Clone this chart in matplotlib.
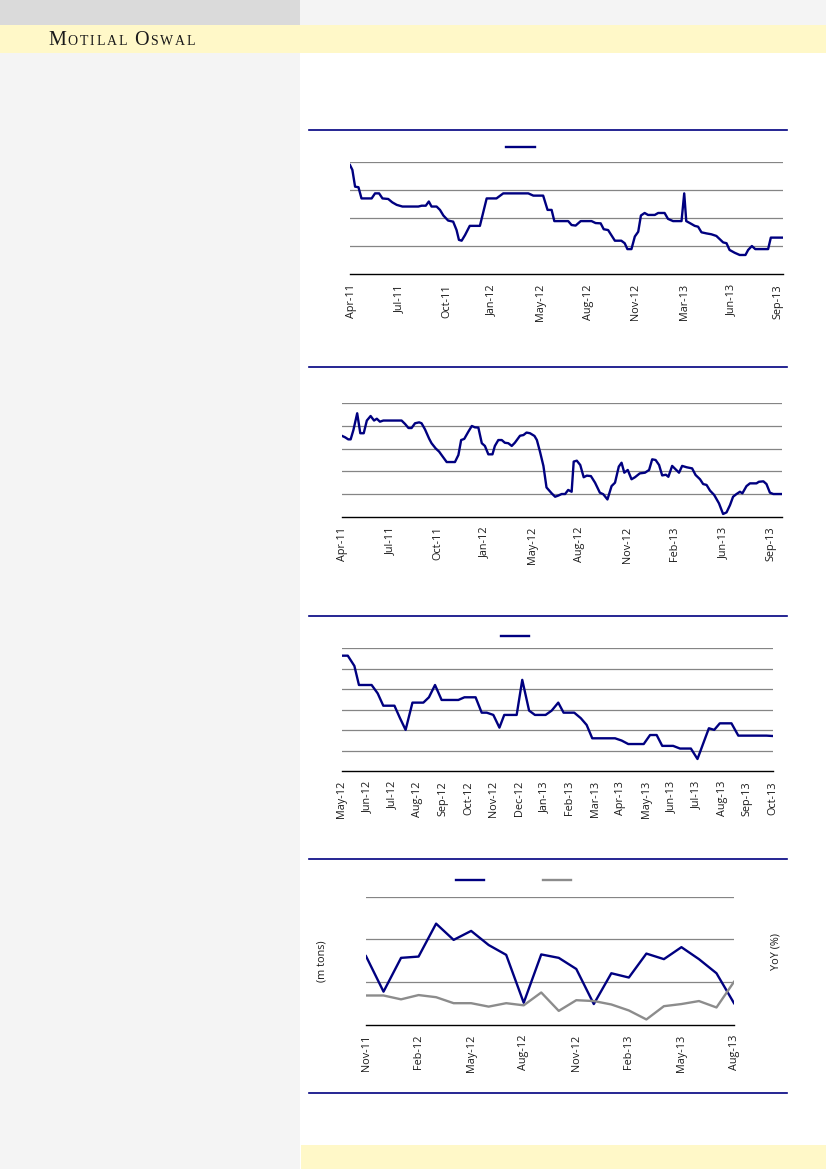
import matplotlib
matplotlib.use('Agg')
import matplotlib.pyplot as plt
import numpy as np
from matplotlib.patches import Rectangle
from matplotlib.lines import Line2D
from matplotlib.offsetbox import TextArea, HPacker, AnchoredOffsetbox

plt.rcParams['font.family'] = ['Open Sans', 'DejaVu Sans']

NAVY = '#000080'
GREY = '#8c8c8c'

# chart 1 - weekly, Apr-11 .. Sep-13 (values in gridline units, axis has no numbers)
c1_week = [0, 0.7, 1.5, 2.5, 3.4, 6.4, 7.4, 8.6, 9.6, 11.3,
           12.5, 13.8, 15.5, 20.2, 21.2, 22.4, 23.3, 24.1, 25.6, 26.6,
           27.6, 29.0, 30.5, 31.5, 32.2, 33.0, 34.0, 35.4, 38.4, 40.4,
           43.3, 45.3, 52.7, 54.2, 57.1, 58.4, 59.6, 60.4, 64.5, 65.5,
           66.7, 68.2, 71.4, 72.6, 74.1, 75.0, 76.3, 78.3, 80.2, 81.2,
           82.0, 83.2, 84.2, 85.2, 86.0, 87.1, 88.1, 90.1, 91.1, 93.0,
           94.0, 95.5, 98.0, 98.8, 99.4, 100.9, 101.9, 102.9, 103.9, 105.4,
           106.8, 108.3, 110.3, 111.3, 112.2, 113.7, 115.2, 116.9, 117.7, 118.8,
           119.8, 123.6, 124.4, 128.0]
c1_val = [3.90, 3.73, 3.13, 3.11, 2.71, 2.71, 2.89, 2.89, 2.71, 2.69,
          2.57, 2.48, 2.42, 2.42, 2.45, 2.45, 2.60, 2.42, 2.42, 2.30,
          2.10, 1.92, 1.88, 1.58, 1.23, 1.20, 1.40, 1.73, 1.73, 2.71,
          2.71, 2.89, 2.89, 2.81, 2.81, 2.30, 2.30, 1.90, 1.90, 1.76,
          1.74, 1.90, 1.90, 1.83, 1.82, 1.61, 1.58, 1.20, 1.20, 1.11,
          0.90, 0.90, 1.35, 1.52, 2.10, 2.19, 2.12, 2.12, 2.19, 2.19,
          1.98, 1.90, 1.90, 2.89, 1.90, 1.80, 1.73, 1.70, 1.50, 1.46,
          1.43, 1.37, 1.14, 1.11, 0.87, 0.77, 0.69, 0.69, 0.87, 1.01,
          0.90, 0.90, 1.31, 1.31]
c1_labels = ['Apr-11', 'Jul-11', 'Oct-11', 'Jan-12', 'May-12', 'Aug-12',
             'Nov-12', 'Mar-13', 'Jun-13', 'Sep-13']
c1_ticks = [0.5, 14.5, 28.6, 41.8, 56.4, 70.4, 84.5, 98.8, 112.7, 126.5]

# chart 2 - weekly, Apr-11 .. Sep-13
c2_week = [0, 1.0, 1.9, 2.6, 3.4, 4.5, 5.4, 6.4, 7.3, 8.4,
           9.4, 10.2, 11.1, 12.1, 17.4, 18.4, 19.4, 20.3, 21.3, 22.5,
           23.2, 24.2, 25.4, 26.1, 27.3, 28.3, 29.2, 30.5, 32.9, 33.9,
           34.7, 35.6, 36.8, 37.8, 38.7, 39.7, 40.7, 41.6, 42.6, 43.8,
           44.5, 45.5, 46.5, 47.4, 48.4, 49.4, 50.3, 51.8, 52.8, 53.7,
           54.7, 56.0, 56.7, 57.6, 58.6, 59.5, 61.0, 62.0, 62.9, 63.9,
           64.9, 65.8, 66.8, 67.4, 68.3, 69.3, 70.3, 71.2, 72.4, 73.6,
           75.0, 76.0, 77.2, 78.4, 79.4, 80.5, 81.3, 82.1, 83.1, 84.2,
           85.2, 86.6, 88.1, 89.3, 90.2, 91.2, 92.2, 93.1, 94.2, 94.9,
           96.0, 97.0, 98.0, 98.9, 100.2, 101.8, 102.8, 104.1, 105.0, 106.0,
           107.0, 108.2, 109.6, 110.8, 111.8, 112.8, 113.7, 114.7, 115.7, 116.4,
           117.6, 118.6, 120.5, 121.2, 122.5, 123.4, 124.4, 125.4, 128.0]
c2_val = [3.57, 3.50, 3.41, 3.41, 3.82, 4.56, 3.68, 3.68, 4.24, 4.44,
          4.24, 4.32, 4.19, 4.24, 4.24, 4.09, 3.91, 3.91, 4.12, 4.16,
          4.12, 3.85, 3.44, 3.24, 3.01, 2.87, 2.68, 2.41, 2.41, 2.72,
          3.38, 3.43, 3.75, 4.00, 3.94, 3.93, 3.24, 3.12, 2.75, 2.75,
          3.12, 3.38, 3.38, 3.26, 3.24, 3.12, 3.26, 3.57, 3.60, 3.71,
          3.68, 3.56, 3.38, 2.87, 2.24, 1.29, 1.03, 0.88, 0.93, 1.00,
          1.00, 1.18, 1.10, 2.43, 2.47, 2.28, 1.74, 1.81, 1.79, 1.50,
          1.06, 0.99, 0.76, 1.35, 1.50, 2.21, 2.38, 1.94, 2.06, 1.65,
          1.74, 1.91, 1.94, 2.06, 2.53, 2.50, 2.28, 1.82, 1.85, 1.76,
          2.24, 2.09, 1.94, 2.24, 2.18, 2.13, 1.84, 1.65, 1.44, 1.40,
          1.15, 0.96, 0.59, 0.12, 0.19, 0.51, 0.88, 1.00, 1.10, 1.03,
          1.35, 1.47, 1.47, 1.54, 1.56, 1.44, 1.06, 1.00, 1.00]
c2_labels = ['Apr-11', 'Jul-11', 'Oct-11', 'Jan-12', 'May-12', 'Aug-12',
             'Nov-12', 'Feb-13', 'Jun-13', 'Sep-13']
c2_ticks = [0.2, 14.3, 27.9, 41.5, 55.4, 69.2, 83.1, 96.8, 110.8, 124.7]

# chart 3 - May-12 .. Oct-13, x in months from May-12
c3_month = [0, 0.24, 0.50, 0.68, 1.18, 1.42, 1.64, 2.08, 2.30, 2.52,
            2.79, 3.22, 3.44, 3.68, 3.94, 4.60, 4.84, 5.28, 5.52, 5.72,
            5.98, 6.22, 6.41, 6.90, 7.12, 7.39, 7.62, 8.04, 8.28, 8.54,
            8.75, 9.17, 9.43, 9.66, 9.88, 10.78, 11.04, 11.30, 11.91, 12.16,
            12.42, 12.64, 13.07, 13.34, 13.77, 14.03, 14.26, 14.48, 14.69, 14.91,
            15.37, 15.64, 16.75, 17.02]
c3_val = [5.64, 5.64, 5.14, 4.21, 4.21, 3.80, 3.20, 3.20, 2.59, 2.02,
          3.35, 3.35, 3.61, 4.21, 3.48, 3.48, 3.61, 3.61, 2.86, 2.86,
          2.75, 2.13, 2.75, 2.75, 4.46, 2.96, 2.75, 2.75, 2.96, 3.35,
          2.86, 2.86, 2.59, 2.26, 1.61, 1.61, 1.50, 1.33, 1.33, 1.77,
          1.77, 1.24, 1.24, 1.11, 1.11, 0.60, 1.37, 2.10, 2.02, 2.34,
          2.34, 1.74, 1.74, 1.72]
c3_labels = ['May-12', 'Jun-12', 'Jul-12', 'Aug-12', 'Sep-12', 'Oct-12',
             'Nov-12', 'Dec-12', 'Jan-13', 'Feb-13', 'Mar-13', 'Apr-13',
             'May-13', 'Jun-13', 'Jul-13', 'Aug-13', 'Sep-13', 'Oct-13']

# chart 4 - monthly Nov-11 .. Aug-13, volume (left) and YoY (right)
c4_months = ['Nov-11', 'Dec-11', 'Jan-12', 'Feb-12', 'Mar-12', 'Apr-12',
             'May-12', 'Jun-12', 'Jul-12', 'Aug-12', 'Sep-12', 'Oct-12',
             'Nov-12', 'Dec-12', 'Jan-13', 'Feb-13', 'Mar-13', 'Apr-13',
             'May-13', 'Jun-13', 'Jul-13', 'Aug-13']
c4_vol = [1.61, 0.78, 1.57, 1.60, 2.37, 1.99, 2.20, 1.87, 1.64, 0.52,
          1.65, 1.57, 1.31, 0.49, 1.21, 1.11, 1.67, 1.54, 1.82, 1.54,
          1.21, 0.51]
c4_yoy = [0.69, 0.69, 0.60, 0.70, 0.65, 0.51, 0.51, 0.43, 0.51, 0.46,
          0.76, 0.33, 0.58, 0.56, 0.48, 0.34, 0.13, 0.44, 0.49, 0.56,
          0.41, 1.01]

W, H = 826, 1169
fig = plt.figure(figsize=(W / 100, H / 100), dpi=100)
fig.patch.set_facecolor('white')


def px_rect(x0, y0, x1, y1, color):
    fig.add_artist(Rectangle((x0 / W, 1 - y1 / H), (x1 - x0) / W, (y1 - y0) / H,
                             transform=fig.transFigure, facecolor=color,
                             edgecolor='none', zorder=-10))


def px_hline(y, x0, x1, color=NAVY, lw=1.2):
    fig.add_artist(Line2D([x0 / W, x1 / W], [1 - y / H, 1 - y / H],
                          transform=fig.transFigure, color=color, lw=lw))


def add_ax(x0, x1, ytop, ybot):
    return fig.add_axes([x0 / W, 1 - ybot / H, (x1 - x0) / W, (ybot - ytop) / H])


# page background
px_rect(0, 0, 300, 25, '#dadada')
px_rect(300, 0, W, 25, '#f4f4f4')
px_rect(0, 25, W, 53, '#fff8c8')
px_rect(0, 53, 300, H, '#f4f4f4')
px_rect(301, 1145, W, H, '#fff8c8')

# small caps brand name
big = dict(family='Liberation Serif', size=14.5, color='#1a1a1a')
small = dict(family='Liberation Serif', size=10, color='#1a1a1a')
parts = []
for word in ['MOTILAL', 'OSWAL']:
    for i, ch in enumerate(word):
        parts.append(TextArea(ch, textprops=big if i == 0 else small))
    parts.append(TextArea(' ', textprops=small))
brand = HPacker(children=parts[:-1], align='baseline', pad=0, sep=1.3)
fig.add_artist(AnchoredOffsetbox(loc='lower left', child=brand, pad=0, borderpad=0,
                                 frameon=False, bbox_to_anchor=(48 / W, 1 - 50 / H),
                                 bbox_transform=fig.transFigure))

# section rules
for y in [130, 366.7, 616, 859.3, 1093.3]:
    px_hline(y, 309, 787)


def style(ax, ymax, ticks, labels):
    ax.set_facecolor('none')
    ax.set_ylim(0, ymax)
    ax.set_yticks(np.arange(1, ymax + 1))
    ax.yaxis.grid(True, color='#858585', lw=0.9)
    ax.set_axisbelow(True)
    ax.tick_params(axis='y', length=0, labelleft=False)
    ax.set_xticks(ticks)
    ax.set_xticklabels(labels, rotation=90, fontsize=7.8, color='#1a1a1a')
    ax.tick_params(axis='x', length=0, pad=7)
    for s in ['top', 'left', 'right']:
        ax.spines[s].set_visible(False)
    ax.spines['bottom'].set_color('black')
    ax.spines['bottom'].set_linewidth(1.0)


def legend_at(ax, handles, cx, cy, colsp=2.0):
    ax.legend(handles, [' '] * len(handles), loc='center', frameon=False,
              bbox_to_anchor=(cx / W, 1 - cy / H), bbox_transform=fig.transFigure,
              ncol=len(handles), handlelength=2.55, handletextpad=0, borderpad=0,
              columnspacing=colsp, fontsize=8)


# chart 1
ax1 = add_ax(350, 783, 162.3, 274.3)
l1, = ax1.plot(c1_week, c1_val, color=NAVY, lw=1.7)
ax1.set_xlim(0, 128)
style(ax1, 4, c1_ticks, c1_labels)
legend_at(ax1, [l1], 522, 148.3)

# chart 2
ax2 = add_ax(341.7, 782.3, 403.3, 516.7)
ax2.plot(c2_week, c2_val, color=NAVY, lw=1.7)
ax2.set_xlim(0, 128)
style(ax2, 5, c2_ticks, c2_labels)

# chart 3
ax3 = add_ax(341.7, 773.3, 648.3, 771.3)
l3, = ax3.plot(c3_month, c3_val, color=NAVY, lw=1.7)
ax3.set_xlim(0, 17.02)
style(ax3, 6, np.arange(len(c3_labels)), c3_labels)
legend_at(ax3, [l3], 516.5, 637.7)

# chart 4
ax4 = add_ax(366, 734, 896.7, 1025)
x4 = np.arange(len(c4_months))
l4a, = ax4.plot(x4, c4_vol, color=NAVY, lw=1.7)
ax4.set_xlim(0, len(c4_months) - 1)
style(ax4, 3, x4[::3], c4_months[::3])
ax4b = ax4.twinx()
l4b, = ax4b.plot(x4, c4_yoy, color=GREY, lw=1.7)
ax4b.set_ylim(0, 3)
ax4b.set_yticks([])
for s in ax4b.spines.values():
    s.set_visible(False)
ax4.set_ylabel('(m tons)', fontsize=7.8, color='#1a1a1a')
ax4.yaxis.set_label_coords(-0.105, 0.5)
ax4b.set_ylabel('YoY (%)', fontsize=7.8, color='#1a1a1a')
ax4b.yaxis.set_label_coords(1.10, 0.57)
legend_at(ax4b, [l4a, l4b], 515, 881.7, colsp=5.0)

fig.savefig('out.png', dpi=100)
